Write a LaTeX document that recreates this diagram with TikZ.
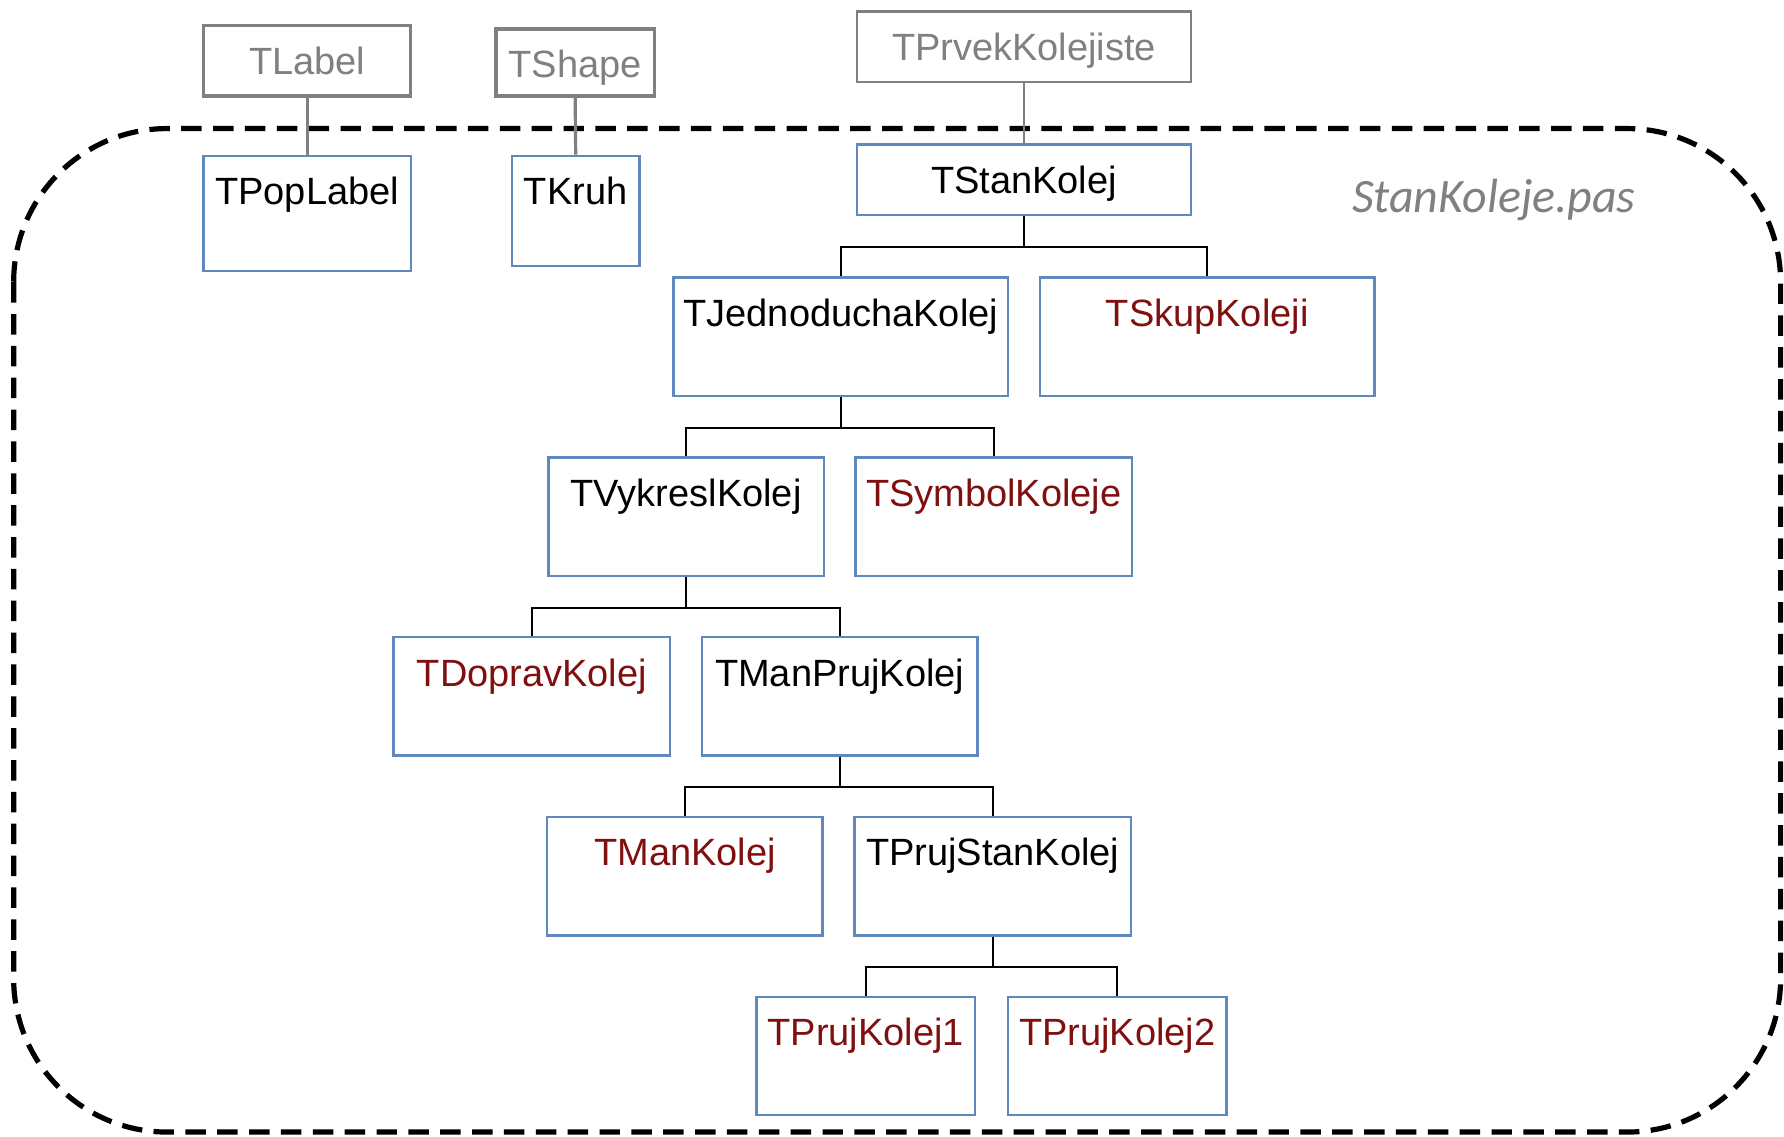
\documentclass[tikz,border=0pt]{standalone}
\usepackage{fontspec}
\setmainfont{Liberation Sans}
\newfontfamily\pasfont{Carlito}
\definecolor{boxblue}{RGB}{96,136,190}
\definecolor{basegray}{RGB}{128,128,128}
\definecolor{kolred}{RGB}{128,16,16}
\tikzset{
  trida/.style={draw=boxblue, line width=0.6pt, fill=white, inner xsep=0pt, inner ysep=0pt,
    text height=0.43cm, text depth=0.61cm, anchor=north, font=\fontsize{9.5}{11}\selectfont},
  kratka/.style={trida, text depth=0.19cm},
  predek/.style={kratka, draw=basegray, text=basegray, line width=0.8pt},
  odvoz/.style={text=kolred},
  vazba/.style={line width=0.5pt, black},
  sedavazba/.style={line width=0.8pt, basegray},
  ramec/.style={line width=1.3pt, dash pattern=on 0.18cm off 0.10cm, rounded corners=1.35cm}
}
\begin{document}
\begin{tikzpicture}
\useasboundingbox (0,0) rectangle (15.68,-9.99);
% unit file border
\draw[ramec] (0.12,-1.13) rectangle (15.65,-9.95);
\node[font=\pasfont\itshape\fontsize{12}{14}\selectfont, text=basegray] (soubor) at (13.13,-1.76) {StanKoleje.pas};

% base classes from outside
\node[predek, minimum width=1.82cm] (label) at (2.70,-0.21) {TLabel};
\node[predek, minimum width=1.39cm, text depth=0.16cm] (shape) at (5.055,-0.24) {TShape};
\node[predek, minimum width=2.94cm, line width=0.6pt] (prvek) at (9.00,-0.09) {TPrvekKolejiste};

% classes of the unit
\node[trida, minimum width=1.82cm, text depth=0.58cm] (poplabel) at (2.70,-1.36) {TPopLabel};
\node[trida, minimum width=1.12cm, text depth=0.54cm] (kruh) at (5.06,-1.36) {TKruh};
\node[kratka, minimum width=2.94cm] (stan) at (9.00,-1.26) {TStanKolej};
\node[trida, minimum width=2.94cm] (jedn) at (7.39,-2.43) {TJednoduchaKolej};
\node[trida, odvoz, minimum width=2.94cm] (skup) at (10.61,-2.43) {TSkupKoleji};
\node[trida, minimum width=2.42cm] (vykr) at (6.03,-4.01) {TVykreslKolej};
\node[trida, odvoz, minimum width=2.43cm] (symb) at (8.735,-4.01) {TSymbolKoleje};
\node[trida, odvoz, minimum width=2.43cm] (doprav) at (4.675,-5.59) {TDopravKolej};
\node[trida, minimum width=2.42cm] (manpruj) at (7.38,-5.59) {TManPrujKolej};
\node[trida, odvoz, minimum width=2.42cm] (man) at (6.02,-7.17) {TManKolej};
\node[trida, minimum width=2.43cm] (prujstan) at (8.725,-7.17) {TPrujStanKolej};
\node[trida, odvoz, minimum width=1.92cm] (pruj1) at (7.61,-8.75) {TPrujKolej1};
\node[trida, odvoz, minimum width=1.92cm] (pruj2) at (9.82,-8.75) {TPrujKolej2};

% inheritance
\draw[sedavazba] (label.south) -- (poplabel.north);
\draw[sedavazba] (shape.south) -- (kruh.north);
\draw[sedavazba, line width=0.5pt] (prvek.south) -- (stan.north);
\foreach \p/\c in {stan/jedn, stan/skup, jedn/vykr, jedn/symb, vykr/doprav, vykr/manpruj,
                   manpruj/man, manpruj/prujstan, prujstan/pruj1, prujstan/pruj2}
  \draw[vazba] (\p.south) -- ++(0,-0.27) -| (\c.north);
\end{tikzpicture}
\end{document}
